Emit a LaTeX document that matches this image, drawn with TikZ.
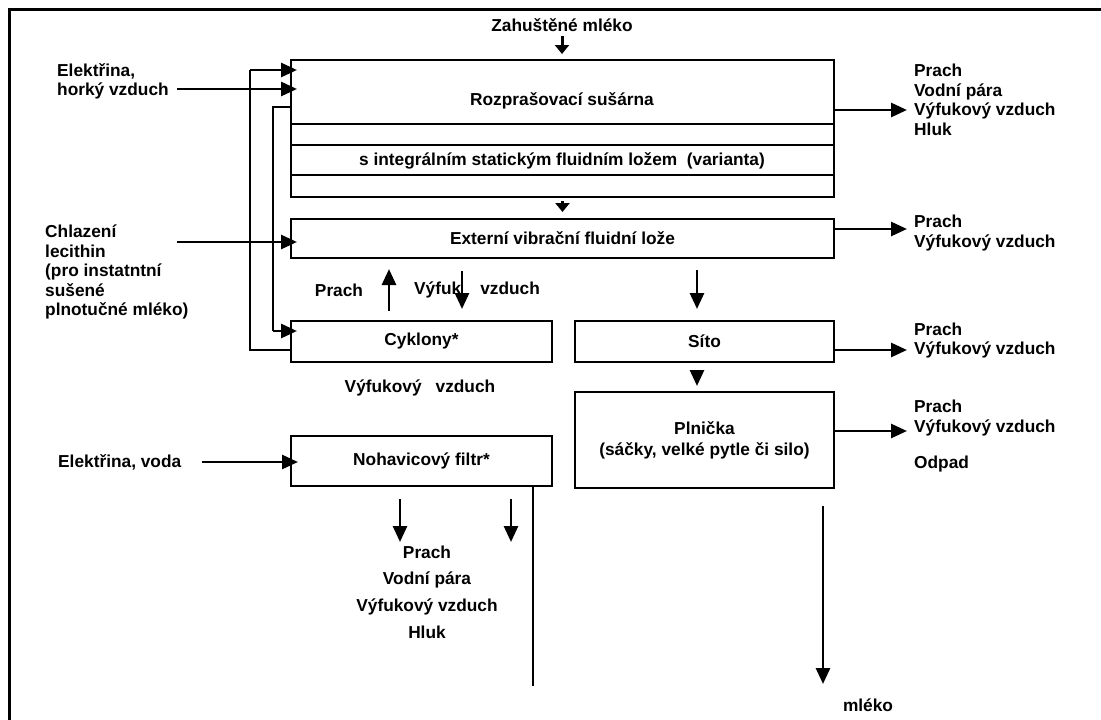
\documentclass[tikz,border=0pt]{standalone}
\usepackage{fontspec}
\setmainfont{Liberation Sans}
\usepackage{tikz}
\usetikzlibrary{arrows.meta,positioning,calc}

\begin{document}
\begin{tikzpicture}[x=1pt, y=-1pt,
        txt/.style={font=\bfseries\fontsize{17.3}{19.5}\selectfont, inner sep=0pt},
        box/.style={draw, line width=2pt, inner sep=0pt, align=center, font=\bfseries\fontsize{17.3}{21}\selectfont},
        arr/.style={line width=2.8pt, -{Triangle[length=16pt,width=14pt]}},
        arrsmall/.style={line width=3pt, -{Triangle[length=9pt,width=14pt]}},
        link/.style={line width=1.2pt}]
        \useasboundingbox (0,0) rectangle (1101,720);
        \draw[line width=3pt] (9,720) -- (9,9) -- (1101,9);
        \node[box, minimum width=543pt, minimum height=137pt] (spray) at (562.5,128.5) {};
        \draw[line width=2pt] (spray.west |- 0,124) -- (spray.east |- 0,124);
        \draw[line width=2pt] (spray.west |- 0,145) -- (spray.east |- 0,145);
        \draw[line width=2pt] (spray.west |- 0,175) -- (spray.east |- 0,175);
        \node[txt] (spraylbl) at (562,101) {Rozprašovací sušárna};
        \node[txt] (fluidlbl) at (562,161) {s integrálním statickým fluidním ložem\ \ (varianta)};
        \node[txt] (milkin) at (562,25) {Zahuštěné mléko};
        \draw[arrsmall, shorten <=4pt, shorten >=5pt] (milkin.south) -- (milkin.south |- spray.north);
        \node[box, minimum width=543pt, minimum height=39pt] (extbed) at (562.5,238.5) {Externí vibrační fluidní lože};
        \draw[arrsmall, shorten <=3pt, shorten >=6pt] (spray.south) -- (extbed.north);
        \node[box, minimum width=261pt, minimum height=41pt] (cyclones) at (421.5,341.5) {Cyklony*};
        \node[box, minimum width=259pt, minimum height=41pt] (sieve) at (704.5,341.5) {Síto};
        \node[box, minimum width=259pt, minimum height=96pt] (filler) at (704.5,440) {Plnička\\(sáčky, velké pytle či silo)};
        \node[box, minimum width=261pt, minimum height=50pt] (bagfilter) at (421.5,461) {Nohavicový filtr*};
        \node[txt, align=left, anchor=west] (out1) at (914,100) {Prach\\Vodní pára\\Výfukový vzduch\\Hluk};
        \draw[arr, shorten >=7pt] (spray.east |- 0,110) -- (out1.west |- 0,110);
        \node[txt, align=left, anchor=west] (out2) at (914,233) {Prach\\Výfukový vzduch};
        \draw[arr, shorten >=7pt] (extbed.east |- 0,229) -- (out2.west |- 0,229);
        \node[txt, align=left, anchor=west] (out3) at (914,340.5) {Prach\\Výfukový vzduch};
        \draw[arr, shorten >=7pt] (sieve.east |- 0,350) -- (out3.west |- 0,350);
        \node[txt, align=left, anchor=west] (out4) at (914,418) {Prach\\Výfukový vzduch};
        \node[txt, anchor=west] (waste) at (914,464) {Odpad};
        \draw[arr, shorten >=7pt] (filler.east |- 0,431) -- (out4.west |- 0,431);
        \node[txt, align=left, anchor=west] (heatin) at (57,81.5) {Elektřina,\\horký vzduch};
        \draw[arr, shorten <=8pt, shorten >=-7pt] (heatin.east |- 0,89) -- (spray.west |- 0,89);
        \node[txt, align=left, anchor=west] (coolin) at (45,272) {Chlazení\\lecithin\\(pro instatntní\\sušené\\plnotučné mléko)};
        \coordinate (coolsrc) at (177,242);
        \draw[arr, shorten >=-7pt] (coolsrc) -- (coolsrc -| extbed.west);
        \coordinate (ret1) at (250,70);
        \coordinate (ret2) at (273,331);
        \draw[link] (cyclones.west |- 0,350) -| (ret1);
        \draw[arr, shorten >=-7pt] (ret1) -- (ret1 -| spray.west);
        \draw[link] (spray.west |- 0,107) -| (ret2);
        \draw[arr, shorten >=-7pt] (ret2) -- (ret2 -| cyclones.west);
        \draw[arr, shorten <=9pt, shorten >=10pt] (cyclones.north -| 389,0) -- (extbed.south -| 389,0);
        \draw[arr, shorten <=12pt, shorten >=11pt] (extbed.south -| 462,0) -- (cyclones.north -| 462,0);
        \node[txt] (dustlbl) at (339,290) {Prach};
        \node[txt, anchor=west] (exhlbl) at (414,290) {Výfuk\hspace{19pt}vzduch};
        \node[txt] (cycout) at (420,388) {Výfukový\hspace{14pt}vzduch};
        \draw[arr, shorten <=11pt, shorten >=11pt] (extbed.south -| 697,0) -- (sieve.north -| 697,0);
        \draw[arr, shorten <=8pt, shorten >=5pt] (sieve.south -| 697,0) -- (filler.north -| 697,0);
        \node[txt, anchor=west] (powerin) at (58,462) {Elektřina, voda};
        \draw[arr, shorten <=21pt, shorten >=-8pt] (powerin.east) -- (powerin.east -| bagfilter.west);
        \coordinate (bagdust) at (400,542);
        \coordinate (bagexh) at (511,542);
        \coordinate (drain) at (533,686);
        \draw[arr, shorten <=12pt] (bagfilter.south -| bagdust) -- (bagdust);
        \draw[arr, shorten <=12pt] (bagfilter.south -| bagexh) -- (bagexh);
        \draw[link] (bagfilter.south -| drain) -- (drain);
        \node[txt, align=center, font=\bfseries\fontsize{17.3}{26.7}\selectfont] (bagout) at (427,592) {Prach\\Vodní pára\\Výfukový vzduch\\Hluk};
        \coordinate (prodout) at (823,684);
        \draw[arr, shorten <=17pt] (filler.south -| prodout) -- (prodout);
        \node[txt] (milkout) at (868,705) {mléko};
      \end{tikzpicture}
\end{document}
